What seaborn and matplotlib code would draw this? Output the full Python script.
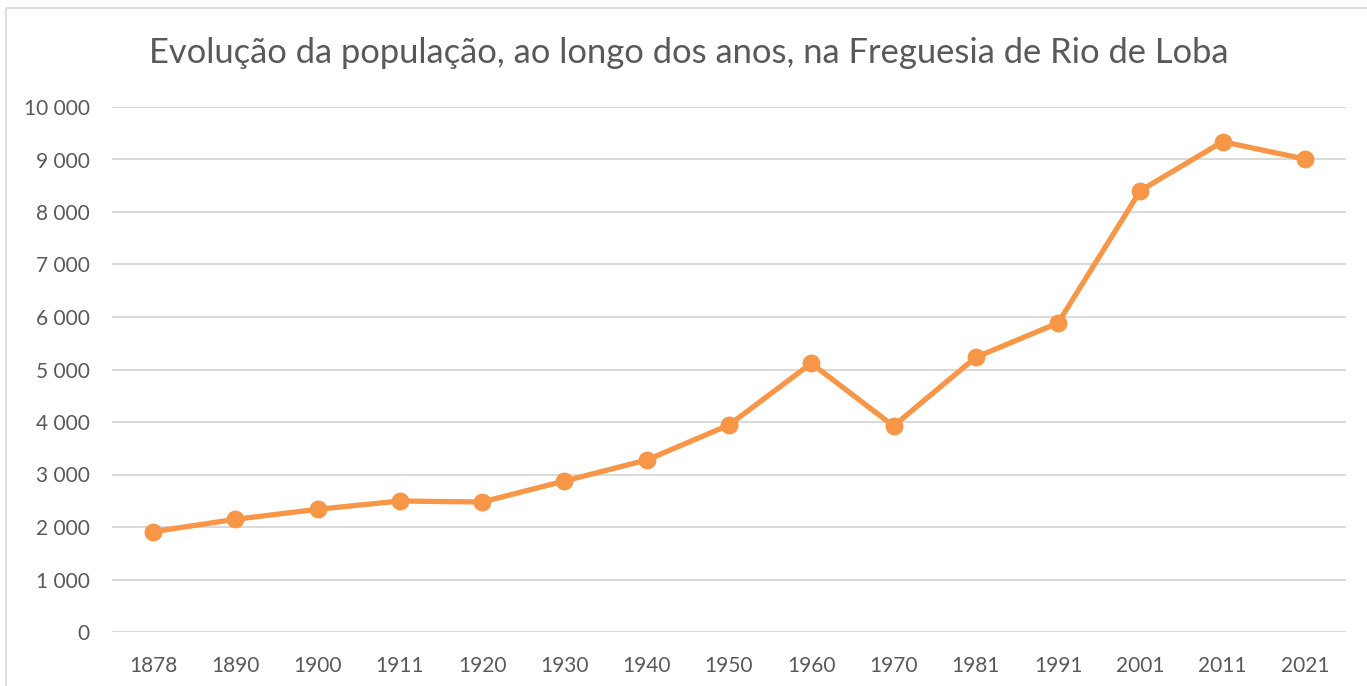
import numpy as np
import pandas as pd
import matplotlib
matplotlib.use('Agg')
import matplotlib.pyplot as plt
import seaborn as sns
from matplotlib.patches import Rectangle
from matplotlib.ticker import FuncFormatter

# data
anos = ['1878', '1890', '1900', '1911', '1920', '1930', '1940', '1950',
        '1960', '1970', '1981', '1991', '2001', '2011', '2021']
populacao = [1910, 2147, 2337, 2495, 2476, 2876, 3276, 3943,
             5118, 3924, 5232, 5886, 8406, 9339, 9010]
y_ticks = list(range(0, 10001, 1000))

df = pd.DataFrame({'Ano': anos, 'População': populacao})

sns.set_style('white')
plt.rcParams['font.family'] = ['Lato', 'DejaVu Sans']

text_col = '#595959'
grid_col = '#D9D9D9'
line_col = '#F79646'

fig = plt.figure(figsize=(13.67, 6.86), dpi=100)
ax = fig.add_axes([112 / 1367, 1 - 632 / 686, 1234 / 1367, 525 / 686])

sns.pointplot(data=df, x='Ano', y='População', color=line_col, ax=ax,
              markers='o', markersize=10, linewidth=3.8, errorbar=None)

ax.set_ylim(0, 10000)
ax.set_xlim(-0.5, len(anos) - 0.5)
ax.set_yticks(y_ticks)
ax.yaxis.set_major_formatter(FuncFormatter(lambda v, p: f'{int(v):,}'.replace(',', ' ')))
ax.grid(axis='y', color=grid_col, linewidth=1.4)
ax.set_axisbelow(True)
for s in ax.spines.values():
    s.set_visible(False)
ax.tick_params(axis='both', length=0, labelsize=15, labelcolor=text_col)
ax.tick_params(axis='y', pad=16)
ax.tick_params(axis='x', pad=17)
ax.set_xlabel('')
ax.set_ylabel('')

fig.text(0.504, 1 - 53 / 686, 'Evolução da população, ao longo dos anos, na Freguesia de Rio de Loba',
         ha='center', va='center', fontsize=24.8, color=text_col)

# chart frame
fig.add_artist(Rectangle((6 / 1367, -0.1), 1.2, 1 - 8 / 686 + 0.1,
                         transform=fig.transFigure, fill=False,
                         edgecolor=grid_col, linewidth=1.2))

fig.savefig('out.png', dpi=100)
